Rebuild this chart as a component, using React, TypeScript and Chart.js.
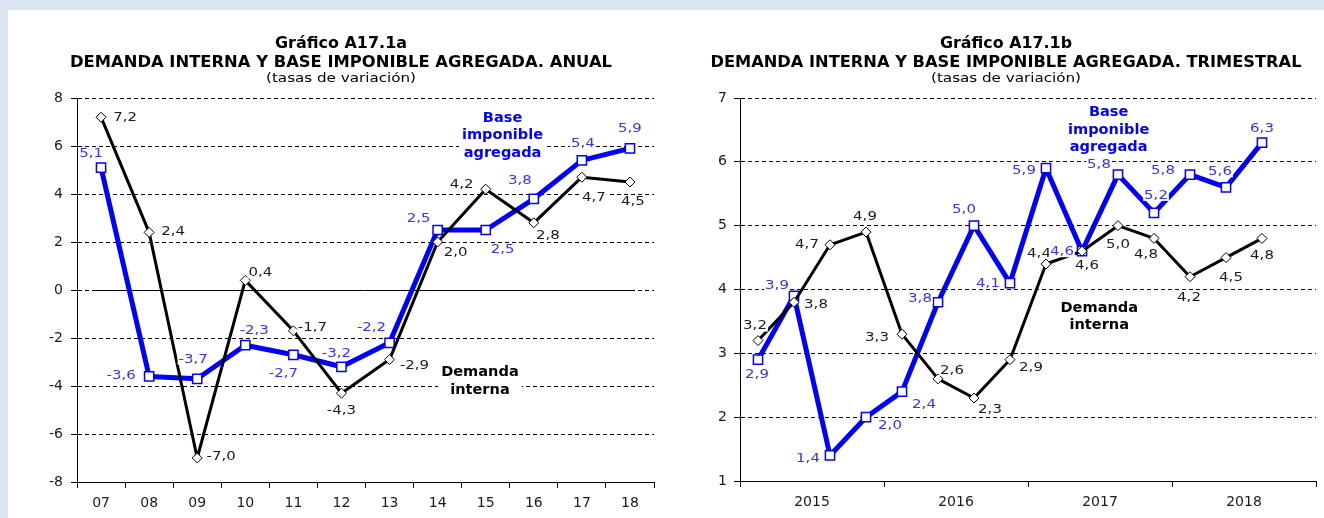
import React, { useEffect, useRef } from 'react';
import { Chart, registerables } from 'chart.js';

Chart.register(...registerables);

// ---------------- DATA ----------------
const ANNUAL_LABELS = ['07', '08', '09', '10', '11', '12', '13', '14', '15', '16', '17', '18'];
const ANNUAL_DEMANDA = [7.2, 2.4, -7.0, 0.4, -1.7, -4.3, -2.9, 2.0, 4.2, 2.8, 4.7, 4.5];
const ANNUAL_BASE = [5.1, -3.6, -3.7, -2.3, -2.7, -3.2, -2.2, 2.5, 2.5, 3.8, 5.4, 5.9];
const ANNUAL_Y_TICKS = [-8, -6, -4, -2, 0, 2, 4, 6, 8];

const QUARTER_YEARS = ['2015', '2016', '2017', '2018'];
const QUARTERS_PER_YEAR = 4;
const QUARTERLY_DEMANDA = [3.2, 3.8, 4.7, 4.9, 3.3, 2.6, 2.3, 2.9, 4.4, 4.6, 5.0, 4.8, 4.2, 4.5, 4.8];
const QUARTERLY_BASE = [2.9, 3.9, 1.4, 2.0, 2.4, 3.8, 5.0, 4.1, 5.9, 4.6, 5.8, 5.2, 5.8, 5.6, 6.3];
const QUARTERLY_Y_TICKS = [1, 2, 3, 4, 5, 6, 7];

const SERIES_DEMANDA = 'Demanda interna';
const SERIES_BASE = 'Base imponible agregada';

// ---------------- STYLE / LABEL PLACEMENT (pixel offsets from each point) ----------------
const ANNUAL_DEMANDA_LABEL_OFFSETS = [[24, 0], [24, -1], [24, -2], [15, -8], [19, -4], [0, 17], [25, 6], [18, 10], [-24, -5], [14, 12], [12, 20], [3, 19]];
const ANNUAL_BASE_LABEL_OFFSETS = [[-10, -14], [-28, -1], [-4, -20], [9, -15], [-10, 18], [-5, -14], [-18, -16], [-19, -12], [17, 19], [-14, -19], [1, -17], [0, -20]];
const QUARTERLY_DEMANDA_LABEL_OFFSETS = [[-3, -15], [22, 2], [-23, -1], [-1, -16], [-25, 3], [14, -9], [16, 11], [21, 7], [-7, -11], [5, 14], [0, 18], [-8, 16], [-1, 20], [5, 20], [0, 17]];
const QUARTERLY_BASE_LABEL_OFFSETS = [[-1, 14], [-17, -11], [-22, 3], [24, 8], [22, 12], [-18, -4], [-10, -17], [-22, 0], [-22, 2], [-20, 0], [-19, -10], [2, -18], [-27, -4], [-6, -16], [0, -15]];

const FONT = '"DejaVu Sans", Verdana, sans-serif';
const BLUE = '#0000ff';
const BLUE_TEXT = '#3333ff';
const BLACK_TEXT = '#1a1a1a';
const LABEL_SX = 1.15;

type Annot = { lines: string[]; x: number; y: number; color: string };
type TitleLine = { text: string; font: string; width: number; y: number };

function drawStretched(ctx: CanvasRenderingContext2D, text: string, x: number, y: number, sx: number) {
  ctx.save();
  ctx.translate(x, y);
  ctx.scale(sx, 1);
  ctx.fillText(text, 0, 0);
  ctx.restore();
}

function makePlugin(opts: {
  titleX: number;
  titles: TitleLine[];
  labelOffsets: number[][][];
  labelColors: string[];
  annotations: Annot[];
  zeroLine: boolean;
}) {
  return {
    id: 'custom',
    beforeDatasetsDraw(chart: any) {
      const ctx: CanvasRenderingContext2D = chart.ctx;
      const xs = chart.scales.x;
      const ys = chart.scales.y;
      ctx.save();
      if (opts.zeroLine) {
        const metaA = chart.getDatasetMeta(0).data;
        const y0 = Math.round(ys.getPixelForValue(0)) + 0.5;
        ctx.strokeStyle = '#000';
        ctx.lineWidth = 1;
        ctx.beginPath();
        ctx.moveTo(metaA[0].x - 5, y0);
        ctx.lineTo(metaA[metaA.length - 1].x + 1, y0);
        ctx.stroke();
      }
      // annotations
      const lh = 17.5;
      ctx.font = `bold 14px ${FONT}`;
      ctx.textAlign = 'center';
      ctx.textBaseline = 'middle';
      for (const a of opts.annotations) {
        const px = xs.getPixelForValue(a.x);
        const py = ys.getPixelForValue(a.y);
        const w = Math.max(...a.lines.map((l) => ctx.measureText(l).width)) * 1.04 + 6;
        ctx.fillStyle = '#ffffff';
        ctx.fillRect(px - w / 2, py - lh / 2, w, lh * a.lines.length);
        ctx.fillStyle = a.color;
        a.lines.forEach((l, k) => drawStretched(ctx, l, px, py + k * lh, 1.04));
      }
      ctx.restore();
    },
    afterDatasetsDraw(chart: any) {
      const ctx: CanvasRenderingContext2D = chart.ctx;
      ctx.save();
      ctx.font = `13px ${FONT}`;
      ctx.textAlign = 'center';
      ctx.textBaseline = 'middle';
      chart.data.datasets.forEach((ds: any, di: number) => {
        const offs = opts.labelOffsets[di];
        if (!offs) return;
        const meta = chart.getDatasetMeta(di);
        meta.data.forEach((el: any, i: number) => {
          const raw = ds.data[i];
          const v = raw && typeof raw === 'object' ? raw.y : raw;
          if (v == null || !offs[i]) return;
          const text = v.toFixed(1).replace('.', ',');
          const cx = el.x + offs[i][0];
          const cy = el.y + offs[i][1];
          const w = ctx.measureText(text).width * LABEL_SX;
          ctx.fillStyle = '#ffffff';
          ctx.fillRect(cx - w / 2 - 1, cy - 6, w + 2, 12);
          ctx.fillStyle = opts.labelColors[di];
          drawStretched(ctx, text, cx, cy + 0.5, LABEL_SX);
        });
      });
      ctx.restore();
    },
    afterDraw(chart: any) {
      const ctx: CanvasRenderingContext2D = chart.ctx;
      ctx.save();
      ctx.textAlign = 'center';
      ctx.textBaseline = 'alphabetic';
      ctx.fillStyle = '#000';
      for (const t of opts.titles) {
        ctx.font = t.font;
        const sx = t.width / ctx.measureText(t.text).width;
        drawStretched(ctx, t.text, opts.titleX, t.y, sx);
      }
      ctx.restore();
    },
  };
}

function lineDatasets(demanda: number[], base: number[]) {
  return [
    {
      label: SERIES_DEMANDA,
      data: demanda.map((v, i) => ({ x: i + 0.5, y: v })),
      borderColor: '#000000',
      borderWidth: 3,
      borderJoinStyle: 'round',
      pointStyle: 'rectRot',
      pointRadius: 5,
      pointBackgroundColor: '#ffffff',
      pointBorderColor: '#000000',
      pointBorderWidth: 1,
      tension: 0,
      order: 0,
    },
    {
      label: SERIES_BASE,
      data: base.map((v, i) => ({ x: i + 0.5, y: v })),
      borderColor: BLUE,
      borderWidth: 5,
      borderJoinStyle: 'round',
      pointStyle: 'rect',
      pointRadius: 6.5,
      pointBackgroundColor: '#ffffff',
      pointBorderColor: BLUE,
      pointBorderWidth: 1.5,
      tension: 0,
      order: 1,
    },
  ];
}

function yAxis(ticks: number[], width: number, padding: number) {
  return {
    type: 'linear',
    min: ticks[0],
    max: ticks[ticks.length - 1],
    afterFit: (s: any) => {
      s.width = width;
    },
    afterBuildTicks: (s: any) => {
      s.ticks = ticks.map((v) => ({ value: v }));
    },
    ticks: { padding, color: BLACK_TEXT, font: { family: FONT, size: 14 } },
    grid: { color: '#000000', lineWidth: 1, drawTicks: true, tickLength: 6, tickBorderDash: [] },
    border: { display: true, color: '#000000', width: 1, dash: [4, 3] },
  };
}

function buildAnnual(canvas: HTMLCanvasElement) {
  const n = ANNUAL_LABELS.length;
  return new Chart(canvas, {
    type: 'line',
    data: { datasets: lineDatasets(ANNUAL_DEMANDA, ANNUAL_BASE) as any },
    options: {
      responsive: false,
      animation: false,
      devicePixelRatio: 1,
      layout: { padding: { left: 0, right: 5, top: 98, bottom: 0 } },
      plugins: { legend: { display: false }, tooltip: { enabled: false }, title: { display: false } },
      scales: {
        x: {
          type: 'linear',
          min: 0,
          max: n,
          afterFit: (s: any) => {
            s.height = 36;
          },
          afterBuildTicks: (s: any) => {
            s.ticks = Array.from({ length: 2 * n + 1 }, (_, k) => ({ value: k / 2 }));
          },
          ticks: {
            autoSkip: false,
            maxRotation: 0,
            padding: 7,
            color: BLACK_TEXT,
            font: { family: FONT, size: 14 },
            callback: (v: any) => (Number(v) % 1 === 0.5 ? ANNUAL_LABELS[Math.floor(Number(v))] : ''),
          },
          grid: {
            drawOnChartArea: false,
            drawTicks: true,
            tickLength: 6,
            lineWidth: 1,
            tickColor: (c: any) => (c.tick && c.tick.value % 1 === 0 ? '#000000' : 'rgba(0,0,0,0)'),
          },
          border: { display: true, color: '#000000', width: 1 },
        },
        y: yAxis(ANNUAL_Y_TICKS, 77, 8),
      } as any,
    },
    plugins: [
      makePlugin({
        titleX: 341,
        titles: [
          { text: 'Gráfico A17.1a', font: `bold 15px ${FONT}`, width: 132, y: 47.5 },
          { text: 'DEMANDA INTERNA Y BASE IMPONIBLE AGREGADA. ANUAL', font: `bold 15px ${FONT}`, width: 542, y: 66.5 },
          { text: '(tasas de variación)', font: `13px ${FONT}`, width: 150, y: 81.5 },
        ],
        labelOffsets: [ANNUAL_DEMANDA_LABEL_OFFSETS, ANNUAL_BASE_LABEL_OFFSETS],
        labelColors: [BLACK_TEXT, BLUE_TEXT],
        annotations: [
          { lines: ['Base', 'imponible', 'agregada'], x: 8.85, y: 7.17, color: BLUE },
          { lines: ['Demanda', 'interna'], x: 8.38, y: -3.45, color: '#000000' },
        ],
        zeroLine: true,
      }) as any,
    ],
  });
}

function buildQuarterly(canvas: HTMLCanvasElement) {
  const n = QUARTER_YEARS.length * QUARTERS_PER_YEAR;
  const half = QUARTERS_PER_YEAR / 2;
  return new Chart(canvas, {
    type: 'line',
    data: { datasets: lineDatasets(QUARTERLY_DEMANDA, QUARTERLY_BASE) as any },
    options: {
      responsive: false,
      animation: false,
      devicePixelRatio: 1,
      layout: { padding: { left: 0, right: 7, top: 98, bottom: 0 } },
      plugins: { legend: { display: false }, tooltip: { enabled: false }, title: { display: false } },
      scales: {
        x: {
          type: 'linear',
          min: 0,
          max: n,
          afterFit: (s: any) => {
            s.height = 37;
          },
          afterBuildTicks: (s: any) => {
            s.ticks = Array.from({ length: n / half + 1 }, (_, k) => ({ value: k * half }));
          },
          ticks: {
            autoSkip: false,
            maxRotation: 0,
            padding: 7,
            color: BLACK_TEXT,
            font: { family: FONT, size: 14 },
            callback: (v: any) =>
              Number(v) % QUARTERS_PER_YEAR === half ? QUARTER_YEARS[Math.floor(Number(v) / QUARTERS_PER_YEAR)] : '',
          },
          grid: {
            drawOnChartArea: false,
            drawTicks: true,
            tickLength: 6,
            lineWidth: 1,
            tickColor: (c: any) =>
              c.tick && c.tick.value % QUARTERS_PER_YEAR === 0 ? '#000000' : 'rgba(0,0,0,0)',
          },
          border: { display: true, color: '#000000', width: 1 },
        },
        y: yAxis(QUARTERLY_Y_TICKS, 78, 7),
      } as any,
    },
    plugins: [
      makePlugin({
        titleX: 344,
        titles: [
          { text: 'Gráfico A17.1b', font: `bold 15px ${FONT}`, width: 132, y: 47.5 },
          { text: 'DEMANDA INTERNA Y BASE IMPONIBLE AGREGADA. TRIMESTRAL', font: `bold 15px ${FONT}`, width: 591, y: 66.5 },
          { text: '(tasas de variación)', font: `13px ${FONT}`, width: 150, y: 81.5 },
        ],
        labelOffsets: [QUARTERLY_DEMANDA_LABEL_OFFSETS, QUARTERLY_BASE_LABEL_OFFSETS],
        labelColors: [BLACK_TEXT, BLUE_TEXT],
        annotations: [
          { lines: ['Base', 'imponible', 'agregada'], x: 10.24, y: 6.77, color: BLUE },
          { lines: ['Demanda', 'interna'], x: 9.98, y: 3.71, color: '#000000' },
        ],
        zeroLine: false,
      }) as any,
    ],
  });
}

function ChartCanvas({ left, width, build }: { left: number; width: number; build: (c: HTMLCanvasElement) => Chart }) {
  const ref = useRef<HTMLCanvasElement>(null);
  useEffect(() => {
    if (!ref.current) return;
    const chart = build(ref.current);
    return () => chart.destroy();
  }, [build]);
  return (
    <canvas
      ref={ref}
      width={width}
      height={518}
      style={{ position: 'absolute', left, top: 0, width, height: 518, display: 'block' }}
    />
  );
}

export default function App() {
  return (
    <div
      style={{
        position: 'fixed',
        left: 0,
        top: 0,
        width: 1324,
        height: 518,
        background: '#dbe5f1',
        overflow: 'hidden',
      }}
    >
      <div style={{ position: 'absolute', left: 8, top: 10, right: 0, bottom: 0, background: '#ffffff' }} />
      <ChartCanvas left={0} width={662} build={buildAnnual} />
      <ChartCanvas left={662} width={662} build={buildQuarterly} />
    </div>
  );
}
